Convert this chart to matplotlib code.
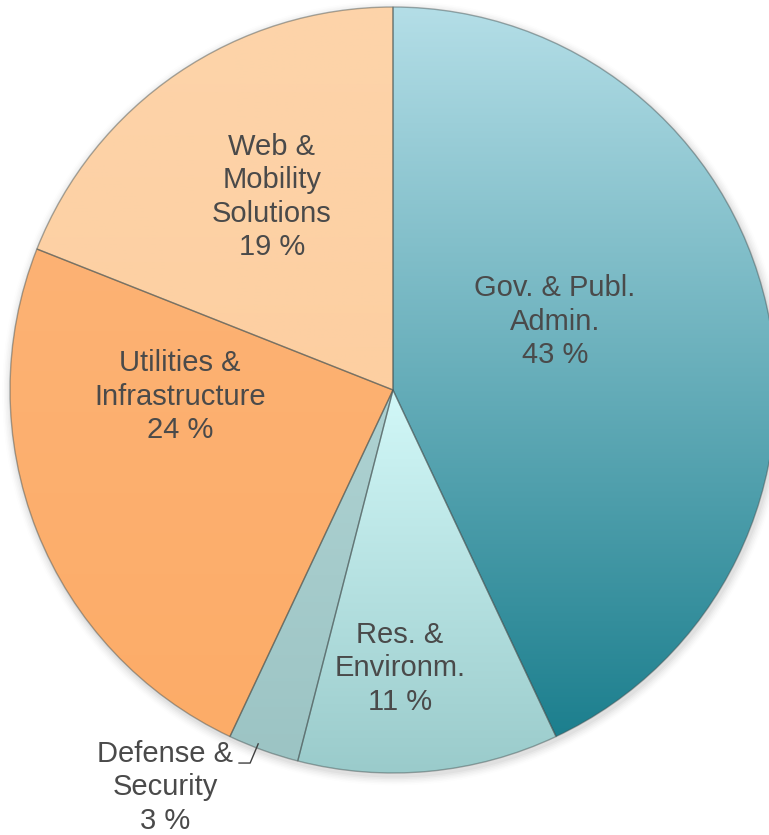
import numpy as np
import matplotlib.pyplot as plt
from matplotlib.colors import LinearSegmentedColormap

plt.rcParams['font.family'] = ['Liberation Sans', 'DejaVu Sans']

# sector data (clockwise from 12 o'clock)
sectors = ["Gov. & Publ.\nAdmin.", "Res. &\nEnvironm.", "Defense &\nSecurity",
           "Utilities &\nInfrastructure", "Web &\nMobility\nSolutions"]
shares = [43, 11, 3, 24, 19]
top_colors = ['#b4dee7', '#d2f8f8', '#aed2d2', '#fdb274', '#fdd4aa']
bot_colors = ['#1c7f8e', '#9acbcb', '#9cc4c4', '#fcac68', '#fdcfa1']

# label placement (data coords, pie radius = 1)
label_pos = [(0.423, 0.178), (0.018, -0.726), (-0.595, -1.037),
             (-0.556, -0.018), (-0.316, 0.504)]

# pixel layout: centre (393, 390), radius 383 in a 769x835 canvas
W, H, cx, cy, R = 769, 835, 393, 390, 383

fig = plt.figure(figsize=(W / 100, H / 100), dpi=100)
ax = fig.add_axes([0, 0, 1, 1])
ax.axis('off')

# soft shadow under the pie
for i, a in enumerate(np.linspace(0.05, 0.01, 6)):
    sh = plt.Circle((0.004, -0.008), 1 + 0.004 * (i + 1), color='#606060', alpha=a, lw=0, zorder=0)
    ax.add_patch(sh)

wedges, _ = ax.pie(shares, startangle=90, counterclock=False, radius=1,
                   wedgeprops=dict(linewidth=0))

for w, c0, c1 in zip(wedges, top_colors, bot_colors):
    w.set_facecolor('none')
    w.set_edgecolor((0.25, 0.3, 0.3, 0.45))
    w.set_linewidth(1.0)
    w.set_zorder(3)
    cmap = LinearSegmentedColormap.from_list('g', [c0, c1])
    grad = np.linspace(0, 1, 256).reshape(-1, 1)
    bb = w.get_path().get_extents(w.get_transform() - ax.transData)
    im = ax.imshow(grad, cmap=cmap, aspect='auto', origin='upper',
                   extent=(bb.x0, bb.x1, bb.y0, bb.y1), zorder=2)
    im.set_clip_path(w)

ax.set_xlim(-cx / R, (W - cx) / R)
ax.set_ylim(-(H - cy) / R, cy / R)
ax.set_aspect('auto')

for name, val, (x, y) in zip(sectors, shares, label_pos):
    ax.text(x, y, f"{name}\n{val} %", ha='center', va='center', fontsize=21,
            color='#4a4a4a', linespacing=1.25, zorder=5)

# leader line for the small slice
ax.plot([-0.402, -0.373, -0.352], [-0.974, -0.974, -0.924], color='#404040', lw=1, zorder=5)

fig.savefig('out.png', dpi=100)
